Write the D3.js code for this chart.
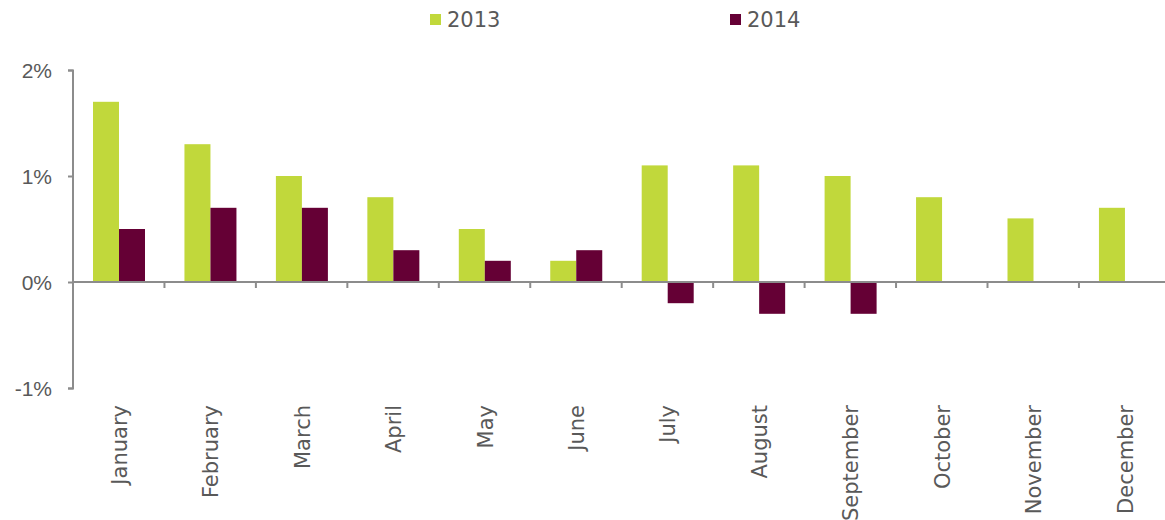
<!DOCTYPE html>
<html>
<head>
<meta charset="utf-8">
<script src="https://cdn.jsdelivr.net/npm/d3@7"></script>
<style>
  body { margin: 0; background: #fff; }
  svg { display: block; font-family: Verdana, "DejaVu Sans", sans-serif; }
</style>
</head>
<body>
<svg></svg>
<script>
var months = ['January', 'February', 'March', 'April', 'May', 'June', 'July',
              'August', 'September', 'October', 'November', 'December'];
var series = ['2013', '2014'];
var values2013 = [1.7, 1.3, 1.0, 0.8, 0.5, 0.2, 1.1, 1.1, 1.0, 0.8, 0.6, 0.7];
var values2014 = [0.5, 0.7, 0.7, 0.3, 0.2, 0.3, -0.2, -0.3, -0.3, null, null, null];
var yTicks = [-1, 0, 1, 2];
var colors = ['#c1d83b', '#650035'];

var width = 1165;
var height = 520;
var textColor = '#595959';
var axisColor = '#8c8c8c';

var svg = d3.select('svg')
            .attr('width', width)
            .attr('height', height);

var xScale = d3.scaleBand()
               .domain(months)
               .range([73, 73 + 12 * 91.45])
               .padding(0);

var inner = d3.scaleBand()
              .domain(series)
              .range([20, 72]);

var yScale = d3.scaleLinear()
               .domain([-1, 2])
               .range([388, 70]);

var rows = months.map((m, i) => ({ month: m, values: [values2013[i], values2014[i]] }));

// bars
var groups = svg.append('g')
  .selectAll('g')
  .data(rows)
  .enter()
  .append('g')
    .attr('transform', d => 'translate(' + xScale(d.month) + ',0)');

groups.selectAll('rect')
  .data(d => d.values.map((v, i) => ({ key: series[i], value: v, i: i })).filter(d => d.value !== null))
  .enter()
  .append('rect')
    .attr('x', d => inner(d.key))
    .attr('width', inner.bandwidth())
    .attr('y', d => yScale(Math.max(0, d.value)))
    .attr('height', d => Math.abs(yScale(d.value) - yScale(0)))
    .attr('fill', d => colors[d.i]);

// y axis
var yAxis = svg.append('g')
  .attr('transform', 'translate(73,0)')
  .call(d3.axisLeft(yScale)
          .tickValues(yTicks)
          .tickSize(5)
          .tickPadding(16)
          .tickFormat(d => d + '%'));

yAxis.select('.domain').attr('stroke', axisColor).attr('stroke-width', 2)
     .attr('d', 'M-5,70.5H0V388.5H-5');
yAxis.selectAll('.tick line').attr('stroke', axisColor).attr('stroke-width', 2);
yAxis.selectAll('.tick text')
     .attr('fill', textColor)
     .style('font-size', '21px')
     .attr('dy', '0.35em');

// x axis line at zero with ticks at category boundaries
var xAxis = svg.append('g')
  .attr('transform', 'translate(0,' + yScale(0) + ')');

xAxis.append('line')
  .attr('x1', 73)
  .attr('x2', width)
  .attr('stroke', axisColor)
  .attr('stroke-width', 2);

xAxis.selectAll('.bound')
  .data(months.slice(1))
  .enter()
  .append('line')
    .attr('class', 'bound')
    .attr('x1', d => xScale(d))
    .attr('x2', d => xScale(d))
    .attr('y1', 0)
    .attr('y2', 6)
    .attr('stroke', axisColor)
    .attr('stroke-width', 2);

// month labels rotated
svg.append('g')
  .selectAll('text')
  .data(months)
  .enter()
  .append('text')
    .attr('transform', d => 'translate(' + (xScale(d) + xScale.bandwidth() / 2 + 8) + ',405) rotate(-90)')
    .attr('text-anchor', 'end')
    .attr('fill', textColor)
    .style('font-size', '21px')
    .text(d => d);

// legend
var legendX = [430, 730];
var legend = svg.append('g')
  .selectAll('g')
  .data(series)
  .enter()
  .append('g')
    .attr('transform', (d, i) => 'translate(' + legendX[i] + ',0)');

legend.append('rect')
  .attr('y', 14)
  .attr('width', 11)
  .attr('height', 11)
  .attr('fill', (d, i) => colors[i]);

legend.append('text')
  .attr('x', 17)
  .attr('y', 27)
  .attr('fill', textColor)
  .style('font-size', '21px')
  .text(d => d);
</script>
</body>
</html>
